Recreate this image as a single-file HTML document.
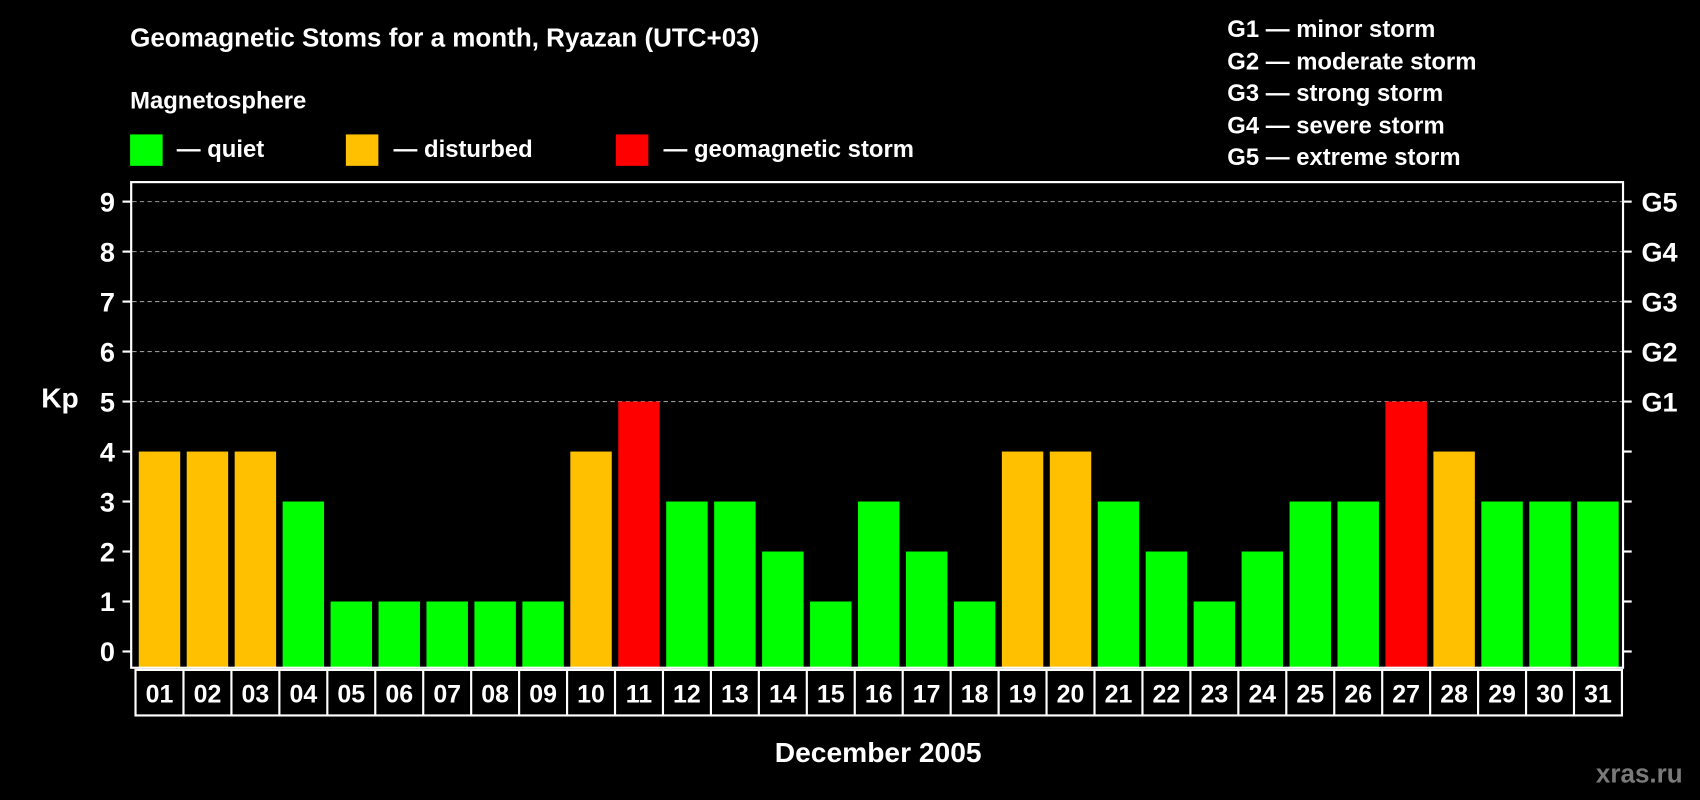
<!DOCTYPE html>
<html><head><meta charset="utf-8"><style>
html,body{margin:0;padding:0;background:#000;width:1700px;height:800px;overflow:hidden}
svg{display:block}
text{font-family:"Liberation Sans",Arial,sans-serif;font-weight:bold;fill:#fff}
</style></head><body>
<svg id="chart" width="1700" height="800" viewBox="0 0 1568 738" preserveAspectRatio="none" xmlns="http://www.w3.org/2000/svg">
<rect x="0" y="0" width="1568" height="738" fill="#000"/>
<text x="120" y="43" font-size="24">Geomagnetic Stoms for a month, Ryazan (UTC+03)</text>
<text x="120" y="100" font-size="22">Magnetosphere</text>
<g><rect x="120" y="124" width="30" height="29" fill="#00ff00"/><text x="163" y="145" font-size="22">— quiet</text></g>
<g><rect x="319" y="124" width="30" height="29" fill="#ffc000"/><text x="363" y="145" font-size="22">— disturbed</text></g>
<g><rect x="568" y="124" width="30" height="29" fill="#ff0000"/><text x="612" y="145" font-size="22">— geomagnetic storm</text></g>
<g font-size="22">
<text x="1132" y="34" font-size="22">G1 — minor storm</text>
<text x="1132" y="64" font-size="22">G2 — moderate storm</text>
<text x="1132" y="93" font-size="22">G3 — strong storm</text>
<text x="1132" y="123" font-size="22">G4 — severe storm</text>
<text x="1132" y="152" font-size="22">G5 — extreme storm</text>
</g>
<text x="38" y="376" font-size="26">Kp</text>
<text x="810" y="703" font-size="26" text-anchor="middle">December 2005</text>
<text x="1472" y="722" font-size="24" style="fill:#7a7a7a">xras.ru</text>
<g id="grid"></g>
<g id="bars"></g>
<rect x="121" y="168" width="1376" height="448" fill="none" stroke="#fff" stroke-width="2"/>
<g id="axes"></g>
<g id="xlabels"></g>
</svg>
<script>
const days = ["01","02","03","04","05","06","07","08","09","10","11","12","13","14","15","16","17","18","19","20","21","22","23","24","25","26","27","28","29","30","31"];
const kpValues = [4,4,4,3,1,1,1,1,1,4,5,3,3,2,1,3,2,1,4,4,3,2,1,2,3,3,5,4,3,3,3];
const yTicks = [0,1,2,3,4,5,6,7,8,9];
const gLabels = ["G1","G2","G3","G4","G5"];
const gLevels = [5,6,7,8,9];

const NS = "http://www.w3.org/2000/svg";
const y = v => 601 - v * (601 - 186) / 9;
const x0 = 125, x1 = 1496, step = (x1 - x0) / days.length;
const xs = i => x0 + i * step;
function mk(tag, attrs, parent){const e=document.createElementNS(NS,tag);for(const k in attrs)e.setAttribute(k,attrs[k]);parent.appendChild(e);return e;}
const color = v => v >= 5 ? "#ff0000" : (v >= 4 ? "#ffc000" : "#00ff00");

const grid = document.getElementById("grid"), bars = document.getElementById("bars"), axes = document.getElementById("axes"), xl = document.getElementById("xlabels");
gLevels.forEach(v => {
  const l = mk("line",{x1:122,x2:1496,y1:y(v),y2:y(v),stroke:"#999","stroke-width":1,"stroke-dasharray":"4,3"},grid);
  
  
});
yTicks.forEach(v => {
  const t = mk("line",{x1:113,x2:121,y1:y(v),y2:y(v),stroke:"#fff","stroke-width":2},axes);
  
  
  const r = mk("line",{x1:1497,x2:1505,y1:y(v),y2:y(v),stroke:"#fff","stroke-width":2},axes);
  
  
  const tx = mk("text",{x:106,y:y(v)+9,"font-size":25,"text-anchor":"end"},axes);
  tx.textContent = v;
  
  
});
gLevels.forEach((v,i) => {
  const tx = mk("text",{x:1514,y:y(v)+9,"font-size":25},axes);
  tx.textContent = gLabels[i];
  
  
});
kpValues.forEach((v,i) => {
  const top = y(v), bot = 616;
  const b = mk("rect",{x:xs(i)+3,y:top,width:step-6,height:bot-top,fill:color(v)},bars);
  
  
});
const box = mk("rect",{x:x0,y:618,width:x1-x0,height:42,fill:"none",stroke:"#fff","stroke-width":2},xl);


days.forEach((d,i) => {
  if (i > 0) {
    const s = mk("line",{x1:xs(i),x2:xs(i),y1:618,y2:660,stroke:"#fff","stroke-width":2},xl);
    
    
  }
  const t = mk("text",{x:xs(i)+step/2,y:648,"font-size":23,"text-anchor":"middle"},xl);
  t.textContent = d;
  
  
});
</script>
</body></html>
